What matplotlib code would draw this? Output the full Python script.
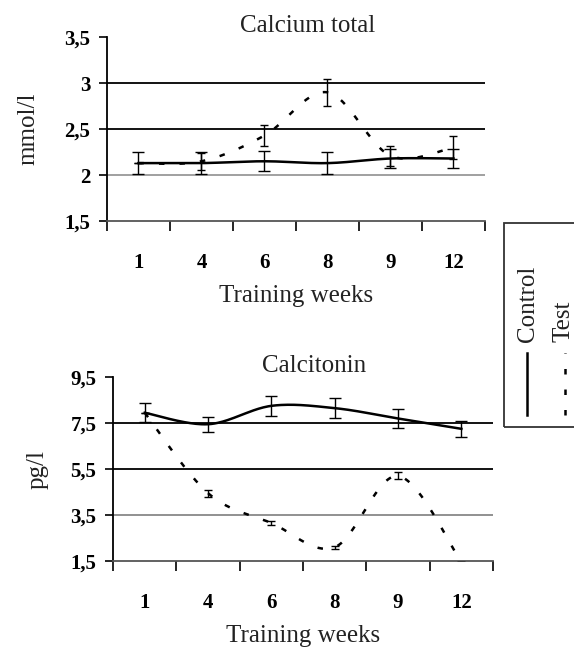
import numpy as np
import matplotlib
matplotlib.use("Agg")
import matplotlib.pyplot as plt
from matplotlib.lines import Line2D
from matplotlib.patches import Rectangle
from matplotlib.ticker import FixedLocator, NullFormatter, FixedFormatter

plt.rcParams["font.family"] = ["Liberation Serif", "DejaVu Serif"]

# ───────────── data ─────────────
weeks = ["1", "4", "6", "8", "9", "12"]

ca_control     = [2.13, 2.13, 2.15, 2.13, 2.18, 2.18]
ca_control_err = [0.12, 0.12, 0.11, 0.12, 0.10, 0.10]
ca_test        = [2.13, 2.15, 2.43, 2.90, 2.21, 2.30]
ca_test_err    = [0.00, 0.09, 0.11, 0.15, 0.11, 0.13]

ct_control     = [7.95, 7.45, 8.25, 8.15, 7.70, 7.25]
ct_control_err = [0.42, 0.33, 0.45, 0.42, 0.42, 0.35]
ct_test        = [7.95, 4.45, 3.15, 2.10, 5.20, 1.45]
ct_test_err    = [0.00, 0.15, 0.08, 0.06, 0.15, 0.00]

ca_ticks = [1.5, 2, 2.5, 3, 3.5]
ca_ticklabels = ["1,5", "2", "2,5", "3", "3,5"]
ct_ticks = [1.5, 3.5, 5.5, 7.5, 9.5]
ct_ticklabels = ["1,5", "3,5", "5,5", "7,5", "9,5"]


def smooth(xs, ys, n=40):
    """Excel-style smoothed line (cubic Bezier through the points)."""
    p = np.column_stack([xs, ys]).astype(float)
    p = np.vstack([p[0], p, p[-1]])
    t = np.linspace(0, 1, n)[:, None]
    out = []
    for i in range(1, len(p) - 2):
        p0, p1, p2, p3 = p[i - 1], p[i], p[i + 1], p[i + 2]
        c1 = p1 + (p2 - p0) / 6
        c2 = p2 - (p3 - p1) / 6
        seg = (1 - t)**3 * p1 + 3 * (1 - t)**2 * t * c1 + 3 * (1 - t) * t**2 * c2 + t**3 * p2
        out.append(seg if i == 1 else seg[1:])
    s = np.vstack(out)
    return s[:, 0], s[:, 1]


DOT = (0, (2.2, 6))
TXT = "#222222"


def panel(ax, title, ylabel, control, control_err, test, test_err,
          ticks, ticklabels, grid_colors):
    x = np.arange(len(weeks))
    for yv, c in zip(ticks[1:], grid_colors):
        ax.axhline(yv, color=c, lw=1.3, zorder=1)
    cx, cy = smooth(x, control)
    ax.plot(cx, cy, color="black", lw=1.8, zorder=3, clip_on=False)
    tx, ty = smooth(x, test)
    ax.plot(tx, ty, color="black", lw=1.8, ls=DOT, zorder=3, clip_on=False)
    ax.errorbar(x, control, yerr=control_err, fmt="none", ecolor="black",
                elinewidth=1.0, capsize=4, capthick=1.0, zorder=4)
    ax.errorbar(x, test, yerr=test_err, fmt="none", ecolor="black",
                elinewidth=1.0, capsize=3, capthick=1.0, zorder=4)

    ax.set_xlim(-0.5, len(weeks) - 0.5)
    ax.set_ylim(ticks[0], ticks[-1])
    ax.xaxis.set_major_locator(FixedLocator(np.arange(len(weeks) + 1) - 0.5))
    ax.xaxis.set_major_formatter(NullFormatter())
    ax.xaxis.set_minor_locator(FixedLocator(x))
    ax.xaxis.set_minor_formatter(FixedFormatter(weeks))
    ax.tick_params(axis="x", which="major", length=7, width=1.2, direction="out")
    ax.tick_params(axis="x", which="minor", length=0, pad=23, labelsize=15)
    ax.set_yticks(ticks)
    ax.set_yticklabels(ticklabels)
    ax.tick_params(axis="y", length=6, width=1.2, direction="out", pad=6, labelsize=15)
    for lab in ax.get_xticklabels(minor=True) + ax.get_yticklabels():
        lab.set_fontweight("bold")

    for s in ("top", "right"):
        ax.spines[s].set_visible(False)
    ax.spines["left"].set_linewidth(1.3)
    ax.spines["bottom"].set_linewidth(1.3)
    ax.spines["bottom"].set_color("#555555")

    ax.set_title(title, fontsize=18, color=TXT, pad=2, x=0.53)
    ax.set_xlabel("Training weeks", fontsize=18, color=TXT, labelpad=9)
    ax.set_ylabel(ylabel, fontsize=18, color=TXT)


fig = plt.figure(figsize=(5.74, 6.52), dpi=100)

ax1 = fig.add_axes([0.1864, 0.661, 0.6585, 0.282])
panel(ax1, "Calcium total", "mmol/l", ca_control, ca_control_err, ca_test, ca_test_err,
      ca_ticks, ca_ticklabels, ["#999999", "black", "black"])
ax1.yaxis.set_label_coords(-0.18, 0.5)

ax2 = fig.add_axes([0.197, 0.1396, 0.662, 0.282])
panel(ax2, "Calcitonin", "pg/l", ct_control, ct_control_err, ct_test, ct_test_err,
      ct_ticks, ct_ticklabels, ["#888888", "black", "black"])
ax2.yaxis.set_label_coords(-0.17, 0.5)

# ───────────── legend (rotated, boxed, cut by right edge) ─────────────
W, H = 574.0, 652.0
fig.patches.append(Rectangle((504 / W, 1 - 427 / H), 0.2, 204 / H, transform=fig.transFigure,
                             fill=False, edgecolor="#333333", lw=1.3))
fig.lines.append(Line2D([527 / W, 527 / W], [1 - 415 / H, 1 - 353 / H],
                        transform=fig.transFigure, color="black", lw=1.8))
fig.lines.append(Line2D([565 / W, 565 / W], [1 - 415 / H, 1 - 353 / H],
                        transform=fig.transFigure, color="black", lw=1.8, ls=DOT))
fig.text(528 / W, 1 - 342 / H, "Control", rotation=90, ha="center", va="bottom",
         fontsize=18, color=TXT)
fig.text(563 / W, 1 - 342 / H, "Test", rotation=90, ha="center", va="bottom",
         fontsize=18, color=TXT)

fig.savefig("out.png", dpi=100)
